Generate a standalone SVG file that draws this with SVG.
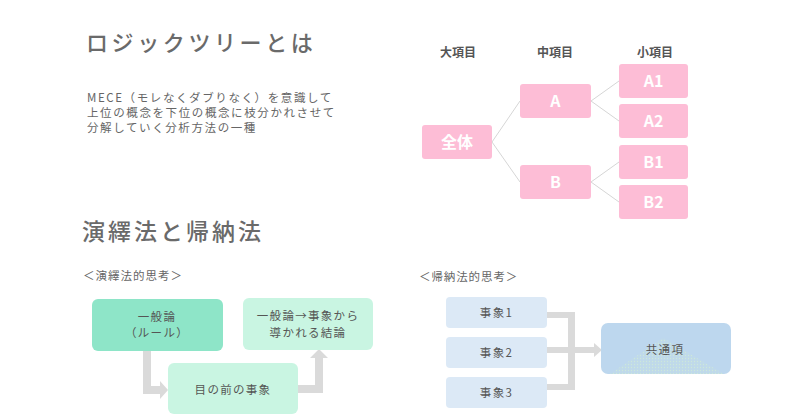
<svg xmlns="http://www.w3.org/2000/svg" width="800" height="419" viewBox="0 0 800 419">
<style>
text{font-family:"Noto Sans CJK JP","Noto Sans",sans-serif;fill:#5a5a5a}
.h{font-size:22px;font-weight:500;fill:#6a6a6a}
.p{font-size:11.5px;letter-spacing:1.6px;fill:#666}
.col{font-size:12px;font-weight:bold;text-anchor:middle;fill:#555}
.pk{fill:#fdbdd6}
.pt{font-size:16px;font-weight:bold;fill:#fff;text-anchor:middle}
.bl{font-size:11.5px;text-anchor:middle;letter-spacing:1.3px;fill:#555}
.ln{stroke:#d6d6d6;stroke-width:1;fill:none}
.ar{fill:#dadada}
</style>
<defs>
<pattern id="dots" width="3" height="3" patternUnits="userSpaceOnUse">
<rect width="3" height="3" fill="#bfd9ea"/>
<circle cx="1.5" cy="1.5" r="0.7" fill="#cde8da"/>
</pattern>
</defs>
<rect width="800" height="419" fill="#fff"/>

<text class="h" x="86" y="51" style="letter-spacing:3.6px">ロジックツリーとは</text>
<text class="p" x="87" y="102">MECE（モレなくダブりなく）を意識して</text>
<text class="p" x="87" y="117">上位の概念を下位の概念に枝分かれさせて</text>
<text class="p" x="87" y="132">分解していく分析方法の一種</text>

<g id="headers">
<text class="col" x="458" y="57">大項目</text>
<text class="col" x="555" y="57">中項目</text>
<text class="col" x="655" y="57">小項目</text>
</g>

<g id="connectors">
<path class="ln" d="M492 142 L520 101 M492 142 L520 182 M591 101 L619 81 M591 101 L619 121 M591 182 L619 162 M591 182 L619 202"/>
<path class="ar" d="M143 351 H151 V386 H160 V381 L168 390 L160 399 V394 H143 Z"/>
<path class="ar" d="M298 385 H315 V358 H310 L319 349 L328 358 H323 V393 H298 Z"/>
<path class="ar" d="M547 312 H575 V347 H594 V343 L602 350 L594 357 V353 H575 V390 H547 V384 H568 V353 H547 V347 H568 V318 H547 Z"/>
</g>

<g id="n-zentai"><rect class="pk" x="422" y="125" width="70" height="34" rx="3"/><text class="pt" x="457" y="148">全体</text></g>
<g id="n-A"><rect class="pk" x="520" y="84" width="71" height="34" rx="3"/><text class="pt" x="555.5" y="107">A</text></g>
<g id="n-B"><rect class="pk" x="520" y="165" width="71" height="34" rx="3"/><text class="pt" x="555.5" y="188">B</text></g>
<g id="n-A1"><rect class="pk" x="619" y="64" width="69" height="34" rx="3"/><text class="pt" x="653.5" y="87">A1</text></g>
<g id="n-A2"><rect class="pk" x="619" y="104" width="69" height="34" rx="3"/><text class="pt" x="653.5" y="127">A2</text></g>
<g id="n-B1"><rect class="pk" x="619" y="145" width="69" height="34" rx="3"/><text class="pt" x="653.5" y="168">B1</text></g>
<g id="n-B2"><rect class="pk" x="619" y="185" width="69" height="34" rx="3"/><text class="pt" x="653.5" y="208">B2</text></g>

<text class="h" x="82" y="240" style="font-size:23px;letter-spacing:3px">演繹法と帰納法</text>
<text class="p" x="83" y="280" style="letter-spacing:1px">＜演繹法的思考＞</text>
<text class="p" x="419" y="281" style="letter-spacing:0.9px">＜帰納法的思考＞</text>

<g id="n-ippanron"><rect x="92" y="299" width="131" height="52" rx="6" fill="#8ee5c8"/><text class="bl" x="157" y="321">一般論</text><text class="bl" x="157" y="337">（ルール）</text></g>
<g id="n-ketsuron"><rect x="243" y="298" width="130" height="52" rx="6" fill="#c9f5e2"/><text class="bl" x="308" y="320">一般論→事象から</text><text class="bl" x="308" y="337">導かれる結論</text></g>
<g id="n-jisho"><rect x="168" y="363" width="130" height="51" rx="6" fill="#c9f5e2"/><text class="bl" x="233" y="394">目の前の事象</text></g>

<g id="n-j1"><rect x="446" y="297" width="101" height="31" rx="4" fill="#dce9f6"/><text class="bl" x="496.5" y="317">事象1</text></g>
<g id="n-j2"><rect x="446" y="337" width="101" height="31" rx="4" fill="#dce9f6"/><text class="bl" x="496.5" y="357">事象2</text></g>
<g id="n-j3"><rect x="446" y="377" width="101" height="31" rx="4" fill="#dce9f6"/><text class="bl" x="496.5" y="397">事象3</text></g>
<g id="n-kyotsu"><rect x="601" y="323" width="130" height="51" rx="7" fill="#bdd7ee"/><polygon points="610,374 663,338 724,374" fill="url(#dots)"/><text class="bl" x="665" y="354">共通項</text></g>
</svg>
